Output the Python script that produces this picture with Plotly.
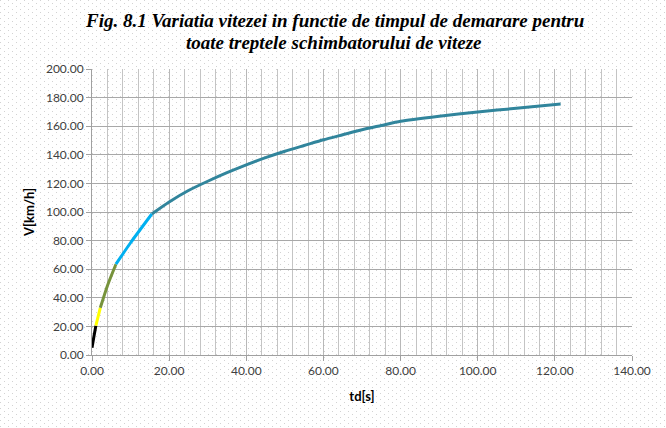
import plotly.graph_objects as go
import base64

# Gear segments: time [s] and speed [km/h]
t_gear1 = [0.0, 0.5, 1.0]
v_gear1 = [5.0, 13.0, 20.5]
t_gear2 = [1.0, 1.6, 2.15]
v_gear2 = [20.5, 27.0, 33.0]
t_gear3 = [2.15, 4.0, 6.2]
v_gear3 = [33.0, 48.5, 63.5]
t_gear4 = [6.2, 10.0, 15.5]
v_gear4 = [63.5, 78.5, 98.6]
t_gear5 = [15.5, 20, 25, 30, 35, 40, 45, 50, 55, 60, 65, 70, 75, 80, 90, 100, 110, 121.5]
v_gear5 = [98.6, 107, 115, 121.5, 127.5, 133, 138, 142.5, 146.5, 150.5, 154, 157.5, 160.5, 163.5, 167, 170, 172.5, 175.5]

gear_colors = ["#000000", "#FFFF00", "#77933C", "#00B0F0", "#31859C"]
title_lines = ["Fig. 8.1 Variatia vitezei in functie de timpul de demarare pentru",
               "toate treptele schimbatorului de viteze"]
x_title = "td[s]"
y_title = "V[km/h]"

segments = [(t_gear1, v_gear1), (t_gear2, v_gear2), (t_gear3, v_gear3),
            (t_gear4, v_gear4), (t_gear5, v_gear5)]

fig = go.Figure()
for (t, v), c in zip(segments, gear_colors):
    fig.add_trace(go.Scatter(x=t, y=v, mode="lines",
                             line=dict(color=c, width=3, shape="spline", smoothing=0.6),
                             showlegend=False, hoverinfo="x+y"))

# dotted background pattern (decoration)
svg = ('<svg xmlns="http://www.w3.org/2000/svg" width="666" height="428">'
       '<defs><pattern id="p" width="8" height="6" patternUnits="userSpaceOnUse">'
       '<rect x="0" y="0" width="1" height="1" fill="#D2D2D2"/>'
       '<rect x="4" y="3" width="1" height="1" fill="#D2D2D2"/></pattern></defs>'
       '<rect width="666" height="428" fill="url(#p)"/></svg>')
src = "data:image/svg+xml;base64," + base64.b64encode(svg.encode()).decode()

serif = "Liberation Serif, Times New Roman, serif"
title_y = [1.171, 1.091]
annotations = [dict(text="<b><i>" + s + "</i></b>", xref="paper", yref="paper",
                    x=(334 - 92) / 540, y=yy, xanchor="center", yanchor="middle",
                    showarrow=False, font=dict(family=serif, size=19, color="#000000"))
               for s, yy in zip(title_lines, title_y)]

fig.update_layout(
    width=666, height=428,
    margin=dict(l=92, r=34, t=69, b=73),
    paper_bgcolor="rgba(0,0,0,0)", plot_bgcolor="rgba(0,0,0,0)",
    images=[dict(source=src, xref="paper", yref="paper", x=-92/540, y=1+69/286,
                 sizex=666/540, sizey=428/286, sizing="stretch", layer="below",
                 xanchor="left", yanchor="top")],
    annotations=annotations,
    font=dict(family="Lato", size=12, color="#404040"),
    xaxis=dict(range=[0, 140], dtick=20, tickformat=".2f", showgrid=True,
               gridcolor="#B8B8B8", gridwidth=1, automargin=False,
               minor=dict(dtick=4, showgrid=True, gridcolor="#C4C4C4", gridwidth=1),
               showline=True, linecolor="#A0A0A0", linewidth=1,
               ticks="outside", ticklen=5, tickcolor="#A0A0A0",
               zeroline=False,
               title=dict(text="<b>" + x_title + "</b>", standoff=14,
                          font=dict(size=13, color="#000000"))),
    yaxis=dict(range=[0, 200], dtick=20, tickformat=".2f", showgrid=True,
               gridcolor="#A8A8A8", gridwidth=1, automargin=False,
               showline=True, linecolor="#A0A0A0", linewidth=1,
               ticks="outside", ticklen=5, tickcolor="#A0A0A0",
               zeroline=False,
               title=dict(text="<b>" + y_title + "</b>", standoff=8,
                          font=dict(size=13, color="#000000"))),
)

fig.write_html("out.html", config={"displayModeBar": False},
               post_script="document.body.style.margin='0';")
